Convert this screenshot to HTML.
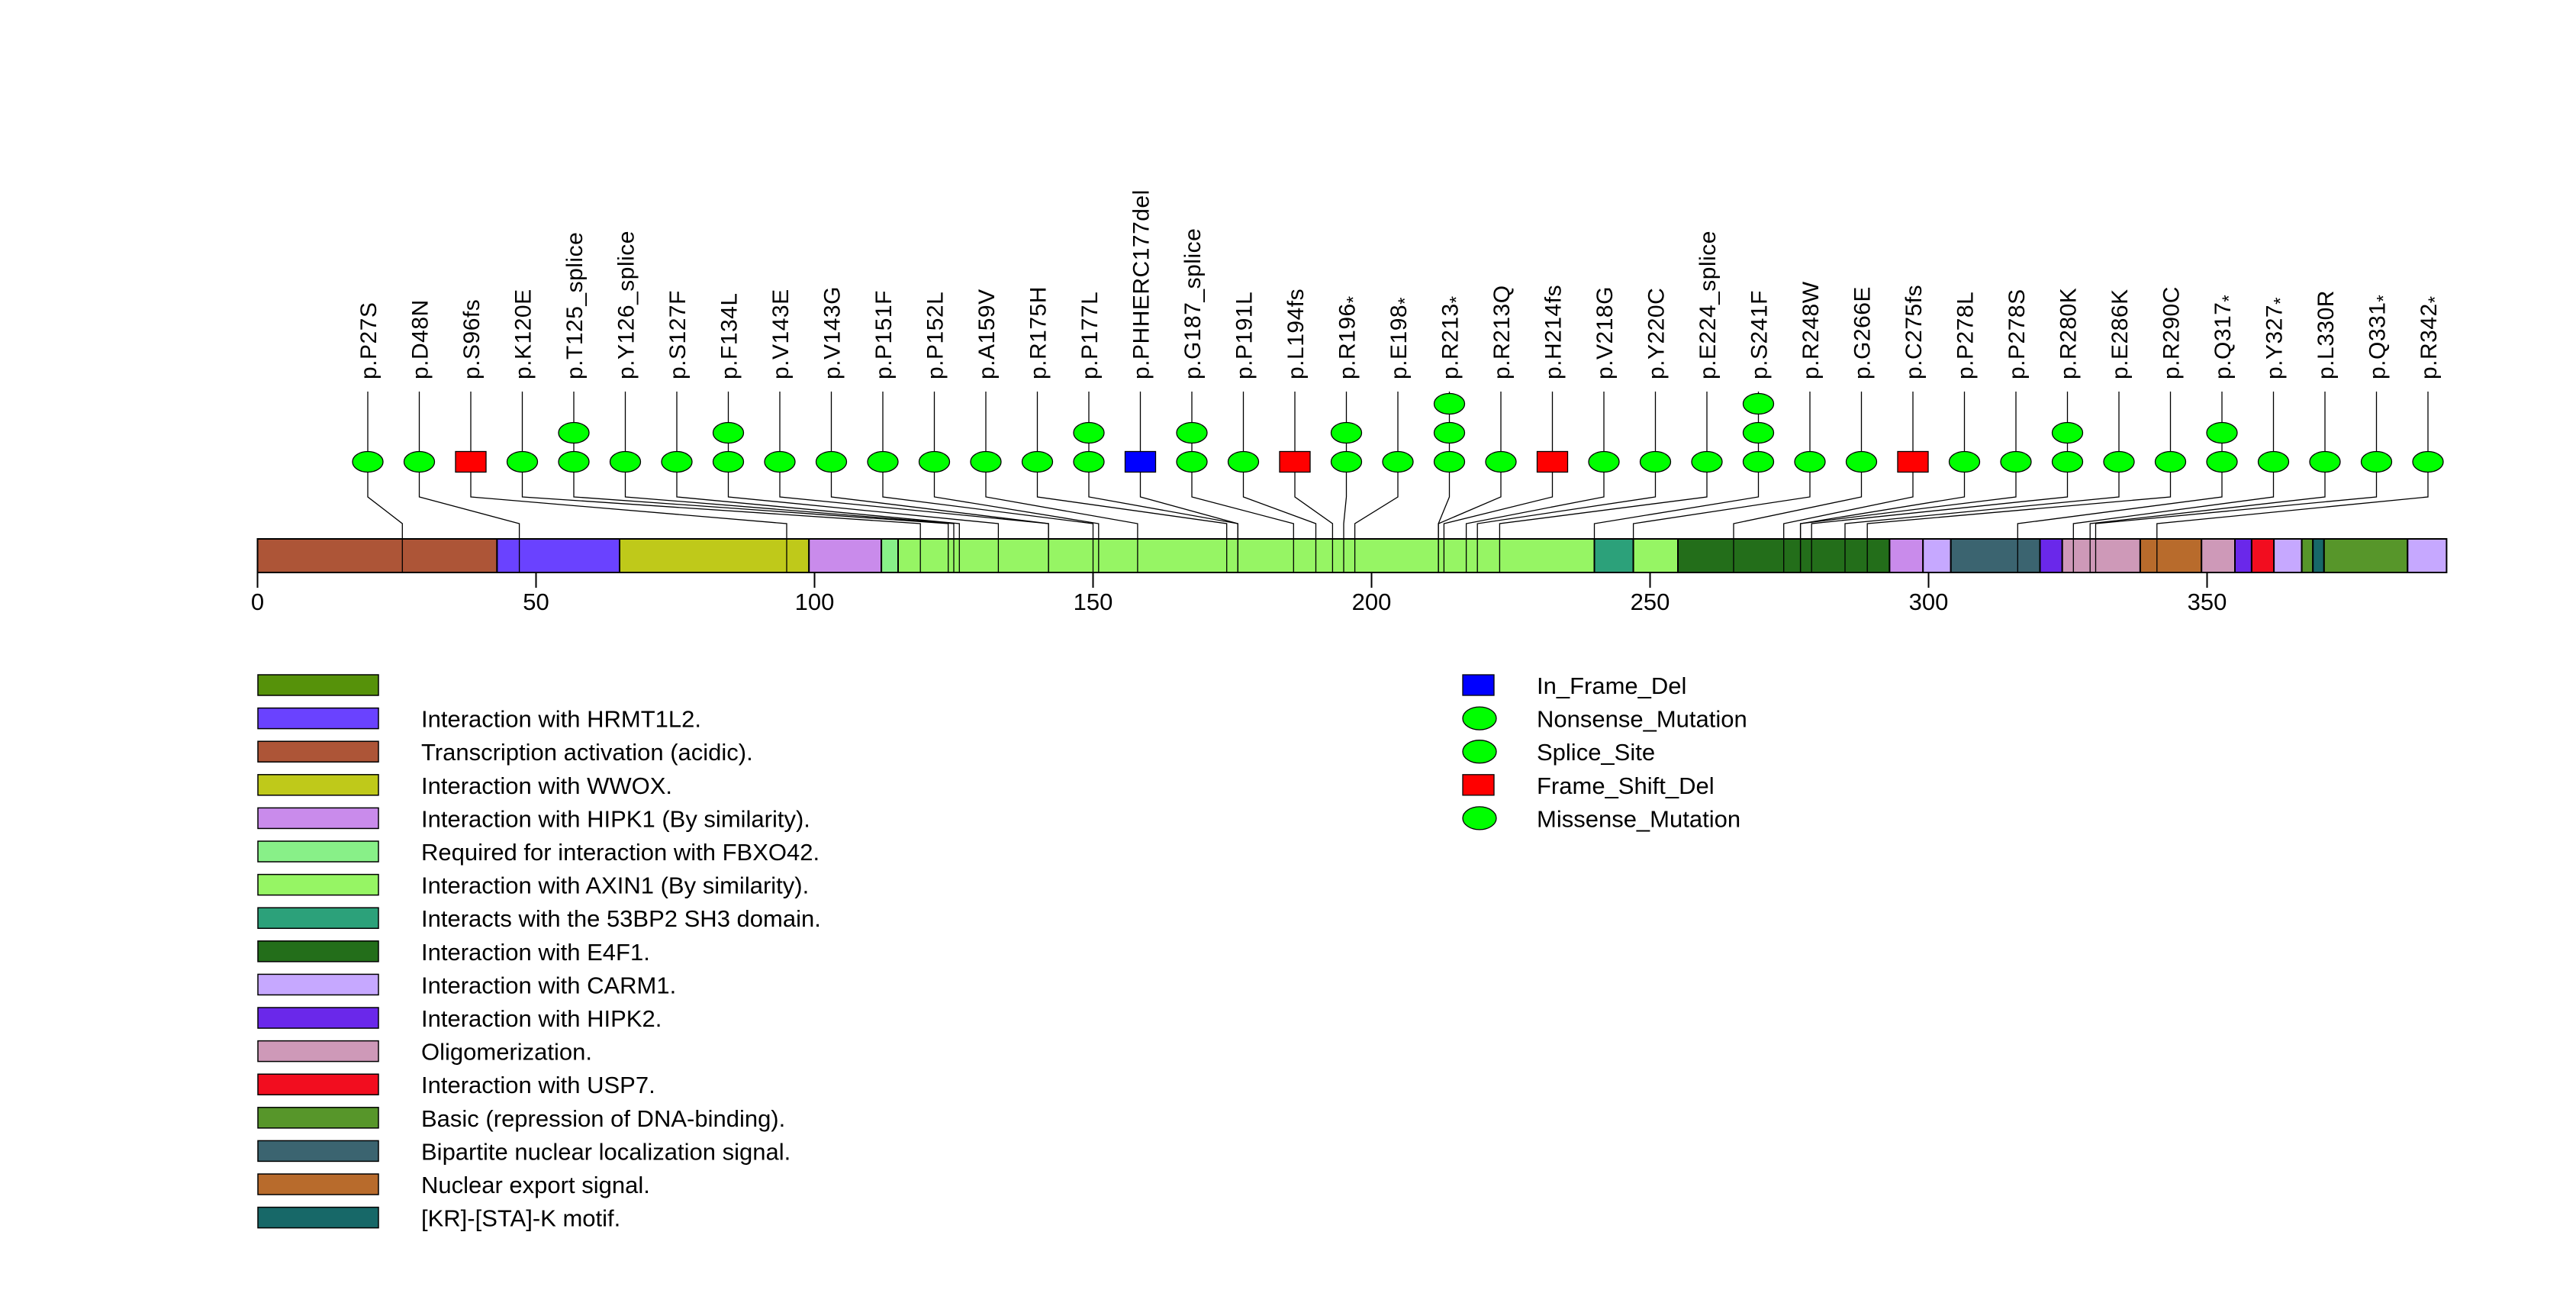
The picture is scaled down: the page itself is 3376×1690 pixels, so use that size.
<!DOCTYPE html>
<html><head><meta charset="utf-8"><style>
html,body{margin:0;padding:0;background:#fff;}
svg{display:block;font-family:"Liberation Sans",Arial,sans-serif;}
</style></head><body>
<svg id="chart" width="3376" height="1690" viewBox="0 0 3376 1690" xmlns="http://www.w3.org/2000/svg">
<g id="lines"></g>
<g id="bar"></g>
<g id="barlines"></g>
<g id="axis"></g>
<g id="markers"></g>
<g id="labels"></g>
<g id="legend"></g>
<g id="legend2"></g>
</svg>
<script>
const mutLabels = ["p.P27S","p.D48N","p.S96fs","p.K120E","p.T125_splice","p.Y126_splice","p.S127F","p.F134L","p.V143E","p.V143G","p.P151F","p.P152L","p.A159V","p.R175H","p.P177L","p.PHHERC177del","p.G187_splice","p.P191L","p.L194fs","p.R196*","p.E198*","p.R213*","p.R213Q","p.H214fs","p.V218G","p.Y220C","p.E224_splice","p.S241F","p.R248W","p.G266E","p.C275fs","p.P278L","p.P278S","p.R280K","p.E286K","p.R290C","p.Q317*","p.Y327*","p.L330R","p.Q331*","p.R342*"];
const mutPositions = [27,48,96,120,125,126,127,134,143,143,151,152,159,175,177,177,187,191,194,196,198,213,213,214,218,220,224,241,248,266,275,278,278,280,286,290,317,327,330,331,342];
const mutCounts = [1,1,1,1,2,1,1,2,1,1,1,1,1,1,2,1,2,1,1,2,1,3,1,1,1,1,1,3,1,1,1,1,1,2,1,1,2,1,1,1,1];
const mutTypes = ["m","m","fs","m","sp","sp","m","m","m","m","m","m","m","m","m","del","sp","m","fs","n","n","n","m","fs","m","m","sp","m","m","m","fs","m","m","m","m","m","n","n","m","n","n"];
const domStarts = [0,43,65,99,112,115,240,247,255,293,299,304,320,324,338,349,355,358,362,367,369,371,386];
const domEnds   = [43,65,99,112,115,240,247,255,293,299,304,320,324,338,349,355,358,362,367,369,371,386,393];
const domColors = ["#AD5537","#6A42FF","#BFC91A","#C98BEB","#88F088","#96F564","#2CA17A","#96F564","#236E1A","#C98BEB","#C6A8FF","#3B6470","#6A28EA","#CE99B8","#B86B2C","#CE99B8","#6A28EA","#F20D1F","#C6A8FF","#57962A","#176868","#57962A","#C6A8FF"];
const tickValues = [0,50,100,150,200,250,300,350];
const legendLabels = ["","Interaction with HRMT1L2.","Transcription activation (acidic).","Interaction with WWOX.","Interaction with HIPK1 (By similarity).","Required for interaction with FBXO42.","Interaction with AXIN1 (By similarity).","Interacts with the 53BP2 SH3 domain.","Interaction with E4F1.","Interaction with CARM1.","Interaction with HIPK2.","Oligomerization.","Interaction with USP7.","Basic (repression of DNA-binding).","Bipartite nuclear localization signal.","Nuclear export signal.","[KR]-[STA]-K motif."];
const legendColors = ["#56920A","#6A42FF","#AD5537","#BFC91A","#C98BEB","#88F088","#96F564","#2CA17A","#236E1A","#C6A8FF","#6A28EA","#CE99B8","#F20D1F","#57962A","#3B6470","#B86B2C","#176868"];
const typeLabels = ["In_Frame_Del","Nonsense_Mutation","Splice_Site","Frame_Shift_Del","Missense_Mutation"];
const typeShapes = ["rect","ellipse","ellipse","rect","ellipse"];
const typeColors = ["#0000FF","#00FF00","#00FF00","#FF0000","#00FF00"];

const NS="http://www.w3.org/2000/svg";
const X0=337.5, SC=7.30;
function xs(p){return X0+SC*p;}
function mx(i){return 482+i*67.5;}
function mk(tag,attrs,parent){const e=document.createElementNS(NS,tag);for(const k in attrs)e.setAttribute(k,attrs[k]);parent.appendChild(e);return e;}
const gL=document.getElementById('lines'),gB=document.getElementById('bar'),gBL=document.getElementById('barlines'),
gA=document.getElementById('axis'),gM=document.getElementById('markers'),gT=document.getElementById('labels'),
gLeg=document.getElementById('legend'),gLeg2=document.getElementById('legend2');
const BT=706,BB=750,ROW=605,STEP=38;

for(let i=0;i<domStarts.length;i++){
  const r=mk('rect',{x:xs(domStarts[i]),y:BT,width:xs(domEnds[i])-xs(domStarts[i]),height:BB-BT,fill:domColors[i],stroke:'#000','stroke-width':2},gB);
  
  
}
tickValues.forEach(v=>{
  const l=mk('line',{x1:xs(v),x2:xs(v),y1:BB,y2:770,stroke:'#000','stroke-width':2},gA);
  
  
  const t=mk('text',{x:xs(v),y:799,'text-anchor':'middle','font-size':31},gA);
  t.textContent=v;
  
  
});
for(let i=0;i<mutLabels.length;i++){
  const x=mx(i), bx=xs(mutPositions[i]-1), n=mutCounts[i];
  const pl=mk('polyline',{points:`${x},513 ${x},651 ${bx},686 ${bx},${BT}`,fill:'none',stroke:'#000','stroke-width':1.3},gL);
  
  
  const vl=mk('line',{x1:bx,x2:bx,y1:BT,y2:BB,stroke:'#000','stroke-width':1.3},gBL);
  
  
  for(let k=0;k<n;k++){
    const cy=ROW-k*STEP;
    let e;
    if(mutTypes[i]==='fs'||mutTypes[i]==='del'){
      e=mk('rect',{x:x-20,y:cy-13.5,width:40,height:27,fill:mutTypes[i]==='fs'?'#FF0000':'#0000FF',stroke:'#000','stroke-width':1.3},gM);
    } else {
      e=mk('ellipse',{cx:x,cy:cy,rx:20,ry:13.5,fill:'#00FF00',stroke:'#000','stroke-width':1.3},gM);
    }
    
    
  }
  const lab=mutLabels[i];
  const t=mk('text',{x:0,y:0,transform:`translate(${x+11},497) rotate(-90)`,'font-size':30,'letter-spacing':'0.5'},gT);
  if(lab.endsWith('*')){
    t.textContent=lab.slice(0,-1);
    const ts=mk('tspan',{dy:6,'font-size':24},t); ts.textContent='*';
  } else t.textContent=lab;
  
  
}
for(let i=0;i<legendLabels.length;i++){
  const y=884+i*43.6;
  const r=mk('rect',{x:338,y:y,width:158,height:27,fill:legendColors[i],stroke:'#000','stroke-width':1.5},gLeg);
  
  
  if(legendLabels[i]){
    const t=mk('text',{x:552,y:y+25,'font-size':31},gLeg);
    t.textContent=legendLabels[i];
    
    
  }
}
for(let i=0;i<typeLabels.length;i++){
  const y=884+i*43.6;
  let e;
  if(typeShapes[i]==='rect') e=mk('rect',{x:1917,y:y,width:41,height:27,fill:typeColors[i],stroke:'#000','stroke-width':1.3},gLeg2);
  else e=mk('ellipse',{cx:1939,cy:y+13.5,rx:22,ry:15,fill:typeColors[i],stroke:'#000','stroke-width':1.3},gLeg2);
  
  
  const t=mk('text',{x:2014,y:y+25,'font-size':31},gLeg2);
  t.textContent=typeLabels[i];
  
  
}
</script>
</body></html>
